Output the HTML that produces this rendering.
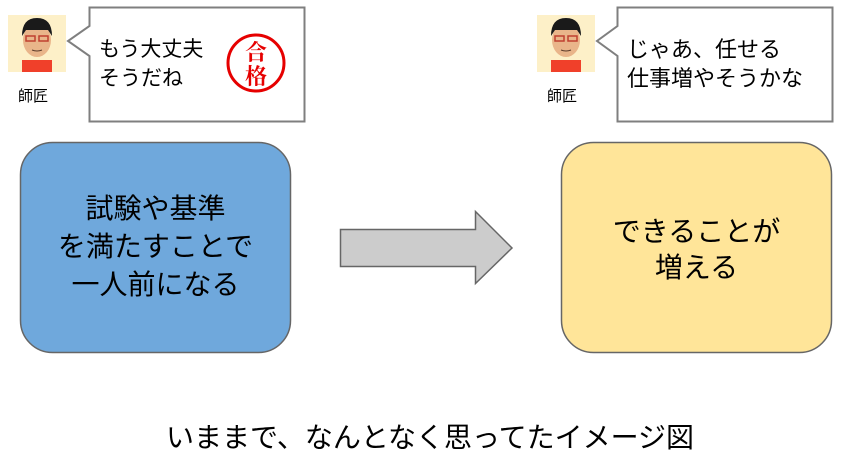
<!DOCTYPE html>
<html><head><meta charset="utf-8"><style>
body{margin:0;width:842px;height:457px;background:#fff;position:relative;overflow:hidden;font-family:"Liberation Sans","Noto Sans CJK JP",sans-serif;color:#000}
.abs{position:absolute}
.t{position:absolute;white-space:nowrap}
</style></head><body>
<svg class="abs" style="left:0;top:0" width="842" height="457">
  <path d="M89.5 7.5 H304.5 V121.5 H89.5 V56 L68 41 L89.5 26 Z" fill="#fff" stroke="#7f7f7f" stroke-width="2"/>
  <path d="M617.5 7.5 H832.5 V121.5 H617.5 V56 L597 41 L617.5 26 Z" fill="#fff" stroke="#7f7f7f" stroke-width="2"/>
  <circle cx="256" cy="63" r="28" fill="none" stroke="#e60000" stroke-width="3"/>
  <text x="256" y="60" font-size="22" font-weight="bold" fill="#e60000" text-anchor="middle" font-family="Noto Serif CJK SC, serif">合</text>
  <text x="256" y="84" font-size="22" font-weight="bold" fill="#e60000" text-anchor="middle" font-family="Noto Serif CJK SC, serif">格</text>
  <g>
    <rect x="8" y="15" width="58" height="57" fill="#fdf0c8"/>
    <rect x="22" y="60" width="30" height="12" fill="#f0402a"/>
    <ellipse cx="37" cy="40" rx="14" ry="17" fill="#e9b58a"/>
    <path d="M22 36 Q22 18 37 18 Q52 18 52 36 L48 30 L26 30 Z" fill="#1a1a1a"/>
    <rect x="26" y="36" width="9" height="5" fill="none" stroke="#c04030" stroke-width="1.5"/>
    <rect x="39" y="36" width="9" height="5" fill="none" stroke="#c04030" stroke-width="1.5"/>
    <path d="M32 50 Q37 52 42 50" stroke="#5a3a2a" fill="none"/>
  </g>
  <g transform="translate(529,0)">
    <rect x="8" y="15" width="58" height="57" fill="#fdf0c8"/>
    <rect x="22" y="60" width="30" height="12" fill="#f0402a"/>
    <ellipse cx="37" cy="40" rx="14" ry="17" fill="#e9b58a"/>
    <path d="M22 36 Q22 18 37 18 Q52 18 52 36 L48 30 L26 30 Z" fill="#1a1a1a"/>
    <rect x="26" y="36" width="9" height="5" fill="none" stroke="#c04030" stroke-width="1.5"/>
    <rect x="39" y="36" width="9" height="5" fill="none" stroke="#c04030" stroke-width="1.5"/>
    <path d="M32 50 Q37 52 42 50" stroke="#5a3a2a" fill="none"/>
  </g>
  <rect x="20.5" y="142.5" width="270" height="210" rx="32" fill="#6fa8dc" stroke="#666" stroke-width="1.5"/>
  <rect x="561.5" y="142.5" width="270" height="210" rx="32" fill="#ffe599" stroke="#666" stroke-width="1.5"/>
  <path d="M340.5 229.5 H475.5 V211.5 L512 248 L475.5 283.5 V266.5 H340.5 Z" fill="#cccccc" stroke="#666" stroke-width="1.5"/>
</svg>
<div class="t" style="left:18px;top:85px;font-size:15px">師匠</div>
<div class="t" style="left:547px;top:85px;font-size:15px">師匠</div>
<div class="t" style="left:99px;top:35px;font-size:21px;line-height:29px">もう大丈夫<br>そうだね</div>
<div class="t" style="left:627px;top:35px;font-size:22px;line-height:29px">じゃあ、任せる<br>仕事増やそうかな</div>
<div class="t" style="left:20px;width:271px;top:190px;font-size:28px;line-height:38px;text-align:center">試験や基準<br>を満たすことで<br>一人前になる</div>
<div class="t" style="left:561px;width:271px;top:214px;font-size:28px;line-height:36px;text-align:center">できることが<br>増える</div>
<div class="t" style="left:0;width:860px;top:416px;font-size:28px;text-align:center">いままで、なんとなく思ってたイメージ図</div>
</body></html>
